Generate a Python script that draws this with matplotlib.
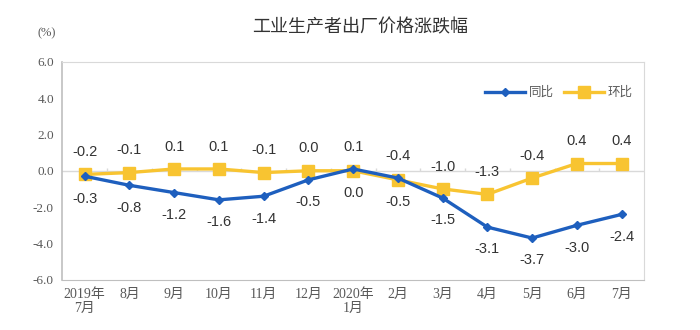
import matplotlib
matplotlib.use("Agg")
import matplotlib.pyplot as plt
import numpy as np

plt.rcParams['font.family'] = ['Noto Sans CJK SC', 'DejaVu Sans']

months = ["2019年\n7月", "8月", "9月", "10月", "11月", "12月", "2020年\n1月",
          "2月", "3月", "4月", "5月", "6月", "7月"]
yoy = [-0.3, -0.8, -1.2, -1.6, -1.4, -0.5, 0.1, -0.4, -1.5, -3.1, -3.7, -3.0, -2.4]
mom = [-0.2, -0.1, 0.1, 0.1, -0.1, 0.0, 0.0, -0.5, -1.0, -1.3, -0.4, 0.4, 0.4]
# which series gets its label above the point (True) or below (False)
yoy_above = [False] * 6 + [True, True] + [False] * 5
mom_above = [True] * 6 + [False, False] + [True] * 5

blue = '#1E5FBE'
yellow = '#F8C431'
grey = '#595959'

fig = plt.figure(figsize=(7, 3.3), dpi=100)
ax = fig.add_axes([0.089, 0.152, 0.831, 0.661])

x = np.arange(len(months))
ax.plot(x, yoy, color=blue, lw=2.4, marker='D', ms=4.5, label='同比', zorder=3)
ax.plot(x, mom, color=yellow, lw=2.4, marker='s', ms=8, label='环比', zorder=2)

ax.set_xlim(-0.5, len(months) - 0.5)
ax.set_ylim(-6, 6)
ax.set_yticks(np.arange(-6, 6.1, 2))
ax.set_yticklabels([f"{v:.1f}" for v in np.arange(-6, 6.1, 2)],
                   family=['Liberation Serif'], fontsize=9.5, color=grey)
ax.set_xticks(x)
ax.set_xticklabels(months, family=['Liberation Serif', 'Noto Sans CJK SC'],
                   fontsize=10, color=grey, linespacing=1.1)
ax.tick_params(axis='both', length=0, pad=6)

for s in ax.spines.values():
    s.set_color('#D9D9D9')
ax.spines['left'].set_color('#BFBFBF')
ax.spines['left'].set_linewidth(1.2)
ax.spines['bottom'].set_color('#BFBFBF')

# category axis at zero
ax.axhline(0, color='#D9D9D9', lw=1, zorder=1)
ax.vlines(x[:-1] + 0.5, 0, 0.15, color='#D9D9D9', lw=1, zorder=1)

for xi, v, up in zip(x, yoy, yoy_above):
    ax.annotate(f"{v:.1f}", (xi, v), xytext=(0, 11 if up else -11),
                textcoords='offset points', ha='center',
                va='bottom' if up else 'top', fontsize=10.5,
                family=['Liberation Sans'], color='#333333')
for xi, v, up in zip(x, mom, mom_above):
    ax.annotate(f"{v:.1f}", (xi, v), xytext=(0, 11 if up else -11),
                textcoords='offset points', ha='center',
                va='bottom' if up else 'top', fontsize=10.5,
                family=['Liberation Sans'], color='#333333')

ax.legend(loc='upper right', bbox_to_anchor=(1.0, 0.94), ncol=2, frameon=False,
          fontsize=9, handlelength=3.2, handletextpad=0.3, columnspacing=0.8,
          labelcolor=grey)

fig.text(0.514, 0.918, "工业生产者出厂价格涨跌幅", ha='center', va='center',
         fontsize=13, weight='medium', color='#333333')
fig.text(0.067, 0.9, "(%)", ha='center', va='center', fontsize=9,
         family=['Liberation Serif'], color=grey)

fig.savefig('out.png', dpi=100)
